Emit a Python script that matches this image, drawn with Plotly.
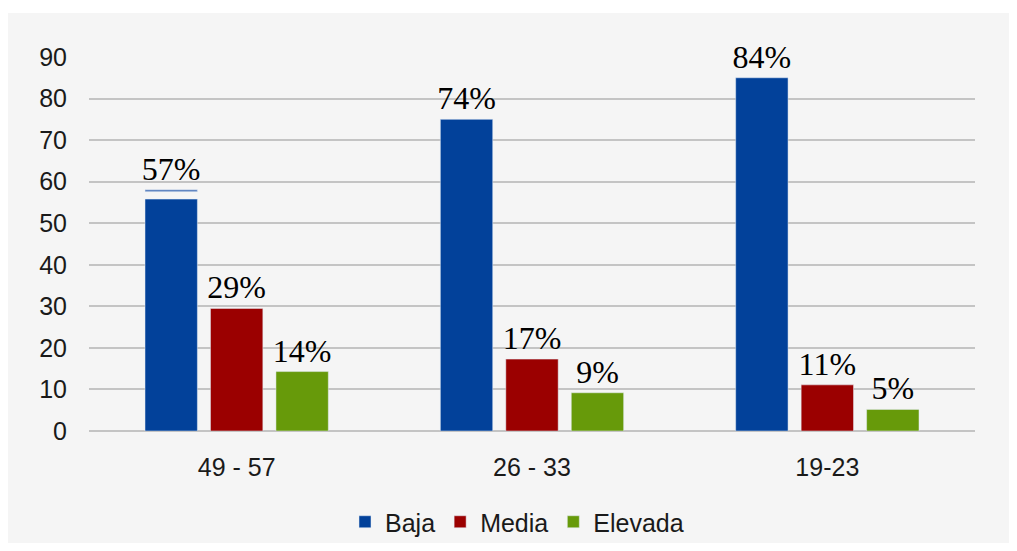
import plotly.graph_objects as go

categories = ["49 - 57", "26 - 33", "19-23"]
baja = [55.8, 75.0, 85.0]
media = [29.5, 17.3, 11.1]
elevada = [14.3, 9.2, 5.2]
baja_labels = ["", "74%", "84%"]
media_labels = ["29%", "17%", "11%"]
elevada_labels = ["14%", "9%", "5%"]
# thin marker line drawn above the first "Baja" bar in the source image
marker_base = [57.6]
marker_cat = ["49 - 57"]
marker_label = ["57%"]
y_ticks = [0, 10, 20, 30, 40, 50, 60, 70, 80, 90]

# page body has an 8px margin on every side, so the figure is 16px smaller
OFF = 8
W, H = 1017 - 2 * OFF, 551 - 2 * OFF
ML, MT = 89 - OFF, 57 - OFF
MR = W - (975 - OFF)
MB = H - (431 - OFF)
pw, ph = W - ML - MR, H - MT - MB

label_font = dict(family="Liberation Serif, Times New Roman, serif", size=32, color="#000000")

fig = go.Figure()
common = dict(textposition="outside", textfont=label_font, cliponaxis=False,
              constraintext="none")
fig.add_trace(go.Bar(name="Baja", x=categories, y=baja, marker_color="#02419a",
                     offsetgroup="b", text=baja_labels, **common))
fig.add_trace(go.Bar(name="Media", x=categories, y=media, marker_color="#9b0000",
                     offsetgroup="m", text=media_labels, **common))
fig.add_trace(go.Bar(name="Elevada", x=categories, y=elevada, marker_color="#679a0a",
                     offsetgroup="e", text=elevada_labels, **common))
fig.add_trace(go.Bar(x=marker_cat, y=[0.45], base=marker_base, marker_color="#4f77b9",
                     offsetgroup="b", text=marker_label, showlegend=False,
                     hoverinfo="skip", **common))

fig.update_layout(
    width=W, height=H,
    margin=dict(l=ML, r=MR, t=MT, b=MB),
    paper_bgcolor="#ffffff",
    plot_bgcolor="#f5f5f5",
    barmode="group",
    bargap=0.335,
    bargroupgap=0.2,
    font=dict(family="Liberation Sans, Arial, sans-serif", color="#1a1a1a"),
    showlegend=True,
    legend=dict(orientation="h", xref="container", yref="container",
                x=(517 - OFF) / W, xanchor="center",
                y=1 - (522 - OFF) / H, yanchor="middle",
                font=dict(size=25, color="#1a1a1a"), bgcolor="rgba(0,0,0,0)",
                itemwidth=30, traceorder="normal"),
    shapes=[dict(type="rect", xref="paper", yref="paper", layer="below",
                 x0=-ML / pw - 0.01, x1=(W - ML) / pw + 0.01,
                 y0=-(MB + 5) / ph, y1=(ph + MT - (13 - OFF)) / ph,
                 fillcolor="#f5f5f5", line_width=0)],
)
fig.update_yaxes(range=[0, 90], tickvals=y_ticks, showgrid=True, gridcolor="#c4c4c4",
                 gridwidth=2, zeroline=True, zerolinecolor="#c4c4c4", zerolinewidth=2,
                 showline=False, ticks="outside", ticklen=16, tickcolor="rgba(0,0,0,0)",
                 tickfont=dict(size=25, color="#1a1a1a"), automargin=False)
fig.update_xaxes(showgrid=False, showline=False, ticks="outside", ticklen=14,
                 tickcolor="rgba(0,0,0,0)", tickfont=dict(size=25, color="#1a1a1a"),
                 automargin=False)

fig.write_html("out.html")
